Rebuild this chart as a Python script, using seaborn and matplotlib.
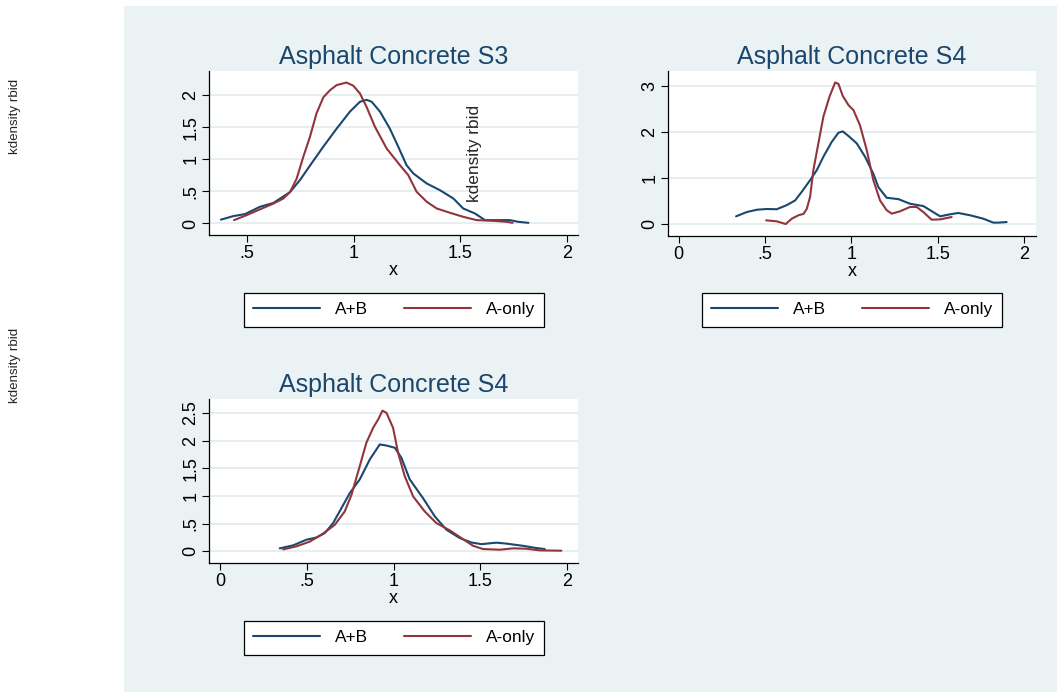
import numpy as np
import pandas as pd
import matplotlib
matplotlib.use("Agg")
import matplotlib.pyplot as plt
import seaborn as sns

# Kernel density estimates of rbid, by bidder group
s3_ab_x = [0.380, 0.438, 0.492, 0.562, 0.625, 0.703, 0.750, 0.804, 0.859, 0.921, 0.983, 1.030,
           1.061, 1.085, 1.124, 1.170, 1.209, 1.248, 1.280, 1.342, 1.404, 1.467, 1.513, 1.568,
           1.615, 1.669, 1.732, 1.771, 1.818]
s3_ab_y = [0.06, 0.115, 0.146, 0.26, 0.32, 0.49, 0.68, 0.94, 1.20, 1.48, 1.745, 1.90,
           1.93, 1.90, 1.745, 1.48, 1.20, 0.91, 0.78, 0.625, 0.52, 0.39, 0.234, 0.156,
           0.052, 0.052, 0.052, 0.026, 0.01]
s3_a_x = [0.441, 0.500, 0.562, 0.625, 0.672, 0.703, 0.734, 0.765, 0.796, 0.827, 0.859, 0.890,
          0.921, 0.967, 0.999, 1.030, 1.061, 1.100, 1.155, 1.217, 1.256, 1.295, 1.342, 1.389,
          1.451, 1.513, 1.576, 1.654, 1.716, 1.744]
s3_a_y = [0.052, 0.13, 0.22, 0.31, 0.39, 0.49, 0.70, 1.04, 1.35, 1.72, 1.97, 2.08,
          2.16, 2.20, 2.15, 2.03, 1.82, 1.51, 1.17, 0.91, 0.755, 0.495, 0.34, 0.234,
          0.167, 0.104, 0.052, 0.042, 0.026, 0.01]

s4_ab_x = [0.333, 0.395, 0.453, 0.511, 0.568, 0.626, 0.674, 0.713, 0.761, 0.800, 0.838, 0.886,
           0.925, 0.950, 0.983, 1.031, 1.079, 1.127, 1.156, 1.204, 1.272, 1.339, 1.416, 1.464,
           1.513, 1.570, 1.618, 1.686, 1.763, 1.821, 1.850, 1.898]
s4_ab_y = [0.167, 0.26, 0.31, 0.326, 0.32, 0.41, 0.51, 0.70, 0.95, 1.17, 1.46, 1.78,
           1.98, 2.01, 1.91, 1.75, 1.46, 1.09, 0.80, 0.57, 0.54, 0.44, 0.39, 0.28,
           0.167, 0.21, 0.24, 0.19, 0.116, 0.03, 0.03, 0.043]
s4_a_x = [0.507, 0.568, 0.620, 0.655, 0.694, 0.723, 0.742, 0.761, 0.780, 0.809, 0.838, 0.873,
          0.906, 0.925, 0.950, 0.983, 1.012, 1.050, 1.089, 1.127, 1.166, 1.204, 1.233, 1.281,
          1.339, 1.378, 1.416, 1.464, 1.513, 1.580]
s4_a_y = [0.08, 0.058, 0.0, 0.116, 0.19, 0.22, 0.33, 0.59, 1.17, 1.75, 2.33, 2.76,
          3.07, 3.04, 2.78, 2.58, 2.47, 2.14, 1.60, 0.95, 0.51, 0.30, 0.225, 0.275,
          0.37, 0.37, 0.26, 0.094, 0.10, 0.152]

s4b_ab_x = [0.342, 0.419, 0.496, 0.554, 0.602, 0.650, 0.698, 0.746, 0.804, 0.862, 0.919, 0.958,
            1.006, 1.044, 1.092, 1.169, 1.237, 1.304, 1.381, 1.448, 1.506, 1.592, 1.650, 1.746,
            1.823, 1.871]
s4b_ab_y = [0.054, 0.108, 0.21, 0.25, 0.33, 0.51, 0.78, 1.05, 1.30, 1.66, 1.93, 1.91,
            1.87, 1.69, 1.30, 0.96, 0.63, 0.39, 0.24, 0.16, 0.13, 0.157, 0.14, 0.10,
            0.06, 0.042]
s4b_a_x = [0.362, 0.438, 0.515, 0.592, 0.660, 0.717, 0.756, 0.804, 0.842, 0.881, 0.910, 0.935,
           0.958, 0.996, 1.025, 1.063, 1.112, 1.179, 1.246, 1.323, 1.390, 1.458, 1.515, 1.612,
           1.688, 1.765, 1.842, 1.967]
s4b_a_y = [0.036, 0.09, 0.175, 0.32, 0.48, 0.72, 1.02, 1.54, 1.96, 2.23, 2.38, 2.54,
           2.50, 2.23, 1.78, 1.36, 0.99, 0.72, 0.51, 0.38, 0.24, 0.10, 0.042, 0.03,
           0.054, 0.048, 0.018, 0.012]

series_names = ["A+B", "A-only"]
series_colors = {"A+B": "#1a476f", "A-only": "#90353b"}

titles = ["Asphalt Concrete S3", "Asphalt Concrete S4", "Asphalt Concrete S4"]
xticks_p1 = [0.5, 1, 1.5, 2]
xticks_p23 = [0, 0.5, 1, 1.5, 2]
xticklabels_p1 = [".5", "1", "1.5", "2"]
xticklabels_p23 = ["0", ".5", "1", "1.5", "2"]
yticks_p1 = [0, 0.5, 1, 1.5, 2]
yticklabels_p1 = ["0", ".5", "1", "1.5", "2"]
yticks_p2 = [0, 1, 2, 3]
yticklabels_p2 = ["0", "1", "2", "3"]
yticks_p3 = [0, 0.5, 1, 1.5, 2, 2.5]
yticklabels_p3 = ["0", ".5", "1", "1.5", "2", "2.5"]


def frame(ab_x, ab_y, a_x, a_y):
    return pd.concat([
        pd.DataFrame({"x": ab_x, "density": ab_y, "group": series_names[0]}),
        pd.DataFrame({"x": a_x, "density": a_y, "group": series_names[1]}),
    ], ignore_index=True)


sns.set_style("white")
plt.rcParams["font.family"] = ["Liberation Sans", "DejaVu Sans"]

W, H = 1057, 692
BG = "#eaf2f3"
fig = plt.figure(figsize=(W / 100, H / 100), dpi=100)
fig.patch.set_facecolor("white")


def px_axes(left, top, right, bottom, **kw):
    return fig.add_axes([left / W, 1 - bottom / H, (right - left) / W, (bottom - top) / H], **kw)


# tinted graph region (leaves a white strip on the left)
bg_ax = px_axes(124, 6, W, H, zorder=-5)
bg_ax.set_facecolor(BG)
bg_ax.set_xticks([])
bg_ax.set_yticks([])
for s in bg_ax.spines.values():
    s.set_visible(False)

panels = [
    dict(box=(209, 71, 578, 235), data=frame(s3_ab_x, s3_ab_y, s3_a_x, s3_a_y),
         xlim=(0.324, 2.05), ylim=(-0.18, 2.38),
         xt=xticks_p1, xtl=xticklabels_p1, yt=yticks_p1, ytl=yticklabels_p1,
         title=titles[0], leg=(245, 293, 543, 326)),
    dict(box=(668, 71, 1036, 236), data=frame(s4_ab_x, s4_ab_y, s4_a_x, s4_a_y),
         xlim=(-0.061, 2.068), ylim=(-0.26, 3.32),
         xt=xticks_p23, xtl=xticklabels_p23, yt=yticks_p2, ytl=yticklabels_p2,
         title=titles[1], leg=(703, 293, 1001, 326)),
    dict(box=(209, 399, 578, 563), data=frame(s4b_ab_x, s4b_ab_y, s4b_a_x, s4b_a_y),
         xlim=(-0.066, 2.063), ylim=(-0.21, 2.75),
         xt=xticks_p23, xtl=xticklabels_p23, yt=yticks_p3, ytl=yticklabels_p3,
         title=titles[2], leg=(245, 621, 543, 654)),
]

for p in panels:
    ax = px_axes(*p["box"])
    ax.set_facecolor("white")
    for y in p["yt"]:
        ax.axhline(y, color="#e4edf0", lw=1.3, zorder=0)
    sns.lineplot(data=p["data"], x="x", y="density", hue="group",
                 palette=series_colors, hue_order=series_names,
                 sort=False, estimator=None, lw=1.5, legend=False, ax=ax)
    ax.set_xlim(*p["xlim"])
    ax.set_ylim(*p["ylim"])
    ax.set_xticks(p["xt"])
    ax.set_xticklabels(p["xtl"], fontsize=13)
    ax.set_yticks(p["yt"])
    ax.set_yticklabels(p["ytl"], fontsize=13, rotation=90, va="center")
    ax.tick_params(axis="both", direction="out", length=5, width=0.8,
                   color="black", labelcolor="black", left=True, bottom=True)
    ax.tick_params(axis="x", pad=2)
    ax.tick_params(axis="y", pad=2)
    for side in ["top", "right"]:
        ax.spines[side].set_visible(False)
    for side in ["left", "bottom"]:
        ax.spines[side].set_color("black")
        ax.spines[side].set_linewidth(0.9)
    ax.set_xlabel("x", fontsize=13, labelpad=0, color="black")
    ax.set_ylabel("")
    ax.set_title(p["title"], fontsize=18, color="#1a476f", pad=5)

    # legend below each panel
    l, t, r, b = p["leg"]
    handles = ax.get_lines()[-2:]
    leg = fig.legend(handles, series_names, loc="center", ncol=2,
                     bbox_to_anchor=((l + r) / 2 / W, 1 - (t + b) / 2 / H),
                     bbox_transform=fig.transFigure, fontsize=12.4,
                     frameon=True, fancybox=False, shadow=False, framealpha=1,
                     edgecolor="black", handlelength=3.9, handletextpad=0.85,
                     columnspacing=2.1, borderpad=0.55, labelcolor="black")
    leg.get_frame().set_linewidth(0.9)

# y-axis titles
fig.text(15 / W, 1 - 116 / H, "kdensity rbid", rotation=90, ha="center", va="center", fontsize=9.6)
fig.text(15 / W, 1 - 365 / H, "kdensity rbid", rotation=90, ha="center", va="center", fontsize=9.6)
fig.text(475 / W, 1 - 153 / H, "kdensity rbid", rotation=90, ha="center", va="center", fontsize=12.4)

fig.savefig("out.png", dpi=100, facecolor=fig.get_facecolor())
